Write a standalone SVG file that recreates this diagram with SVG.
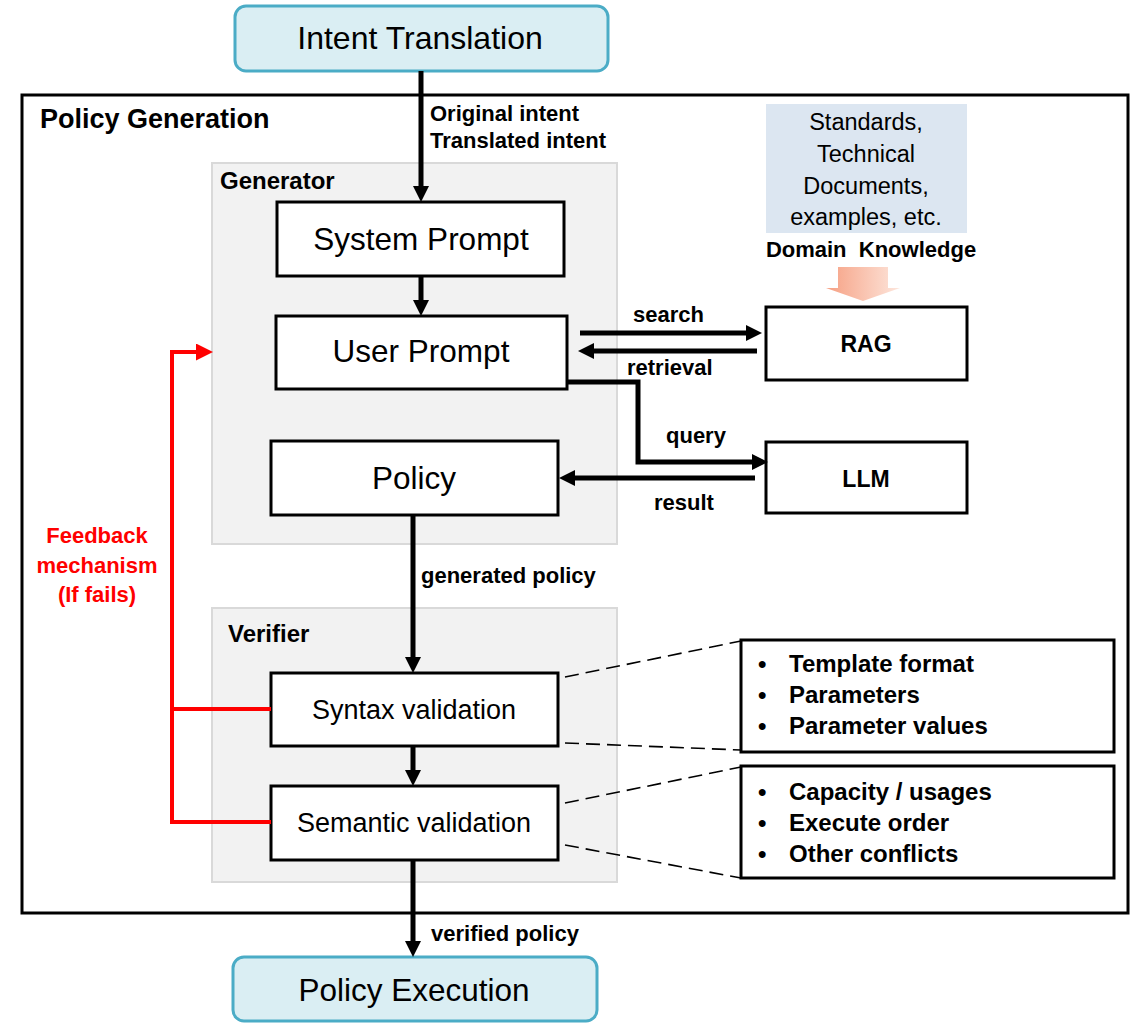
<svg xmlns="http://www.w3.org/2000/svg" width="1140" height="1026" viewBox="0 0 1140 1026">
  <defs>
    <style>
      text { font-family: "Liberation Sans", Arial, sans-serif; fill: #000; }
      .node { fill: #fff; stroke: #000; stroke-width: 3; }
      .io { fill: #DAEEF3; stroke: #4BACC6; stroke-width: 3; }
      .group { fill: #F2F2F2; stroke: #D9D9D9; stroke-width: 2; }
      .big { font-size: 31.5px; text-anchor: middle; }
      .mid { font-size: 27px; text-anchor: middle; }
      .lbl { font-size: 22px; font-weight: bold; }
      .item { font-size: 24px; font-weight: bold; }
      .title { font-size: 27px; font-weight: bold; }
      .sub { font-size: 24px; font-weight: bold; }
      .flow { fill: none; stroke: #000; stroke-width: 5; marker-end: url(#arrow); }
      .fb { fill: none; stroke: #FF0000; stroke-width: 4; }
      .dash { fill: none; stroke: #000; stroke-width: 1.6; stroke-dasharray: 14 7; }
      .red { fill: #FF0000; font-size: 22px; font-weight: bold; text-anchor: middle; }
    </style>
    <marker id="arrow" markerUnits="userSpaceOnUse" markerWidth="16" markerHeight="16" refX="4" refY="8" orient="auto">
      <path d="M0,0 L16,8 L0,16 z" fill="#000"/>
    </marker>
    <marker id="arrowRed" markerUnits="userSpaceOnUse" markerWidth="17" markerHeight="17" refX="4" refY="8.5" orient="auto">
      <path d="M0,0 L17,8.5 L0,17 z" fill="#FF0000"/>
    </marker>
    <linearGradient id="kgArrow" x1="0" y1="0" x2="1" y2="0">
      <stop offset="0" stop-color="#F6A083"/>
      <stop offset="1" stop-color="#FDE6DC"/>
    </linearGradient>
  </defs>

  <rect width="1140" height="1026" fill="#fff"/>

  <!-- outer frame -->
  <g id="policy-generation">
    <rect x="22" y="95" width="1106" height="818" fill="#fff" stroke="#000" stroke-width="3"/>
    <text class="title" x="40" y="128">Policy Generation</text>
  </g>

  <!-- sub-frames -->
  <g id="generator">
    <rect class="group" x="212" y="163" width="405" height="381"/>
    <text class="sub" x="220" y="189">Generator</text>
  </g>
  <g id="verifier">
    <rect class="group" x="212" y="608" width="405" height="274"/>
    <text class="sub" x="228" y="642">Verifier</text>
  </g>

  <!-- nodes -->
  <g id="intent-translation">
    <rect class="io" x="235" y="6" width="373" height="65" rx="11"/>
    <text x="420" y="49" font-size="32" text-anchor="middle">Intent Translation</text>
  </g>
  <g id="system-prompt">
    <rect class="node" x="277" y="202" width="287" height="74"/>
    <text class="big" x="421" y="250">System Prompt</text>
  </g>
  <g id="user-prompt">
    <rect class="node" x="276" y="316" width="291" height="73"/>
    <text class="big" x="421" y="362">User Prompt</text>
  </g>
  <g id="policy">
    <rect class="node" x="271" y="441" width="287" height="74"/>
    <text class="big" x="414" y="489">Policy</text>
  </g>
  <g id="syntax-validation">
    <rect class="node" x="271" y="673" width="287" height="73"/>
    <text class="mid" x="414" y="719">Syntax validation</text>
  </g>
  <g id="semantic-validation">
    <rect class="node" x="271" y="786" width="287" height="74"/>
    <text class="mid" x="414" y="832">Semantic validation</text>
  </g>
  <g id="policy-execution">
    <rect class="io" x="233" y="957" width="364" height="64" rx="11"/>
    <text class="big" x="414" y="1001">Policy Execution</text>
  </g>
  <g id="rag">
    <rect class="node" x="766" y="307" width="201" height="73"/>
    <text x="866" y="352" font-size="23" font-weight="bold" text-anchor="middle">RAG</text>
  </g>
  <g id="llm">
    <rect class="node" x="766" y="442" width="201" height="71"/>
    <text x="866" y="487" font-size="23" font-weight="bold" text-anchor="middle">LLM</text>
  </g>
  <g id="domain-knowledge">
    <rect x="766" y="104" width="201" height="129" fill="#DCE6F1"/>
    <text x="866" y="130" font-size="23.5" text-anchor="middle">Standards,</text>
    <text x="866" y="162" font-size="23.5" text-anchor="middle">Technical</text>
    <text x="866" y="194" font-size="23.5" text-anchor="middle">Documents,</text>
    <text x="866" y="225" font-size="23.5" text-anchor="middle">examples, etc.</text>
    <text x="871" y="257" font-size="22" font-weight="bold" text-anchor="middle" xml:space="preserve">Domain  Knowledge</text>
    <path d="M838,267 H888 V288 H900 L863,301 L826,288 H838 z" fill="url(#kgArrow)"/>
  </g>
  <g id="syntax-checks">
    <rect class="node" x="741" y="640" width="373" height="112"/>
    <text class="item" x="758" y="672">•</text>
    <text class="item" x="789" y="672">Template format</text>
    <text class="item" x="758" y="703">•</text>
    <text class="item" x="789" y="703">Parameters</text>
    <text class="item" x="758" y="734">•</text>
    <text class="item" x="789" y="734">Parameter values</text>
  </g>
  <g id="semantic-checks">
    <rect class="node" x="741" y="766" width="373" height="112"/>
    <text class="item" x="758" y="800">•</text>
    <text class="item" x="789" y="800">Capacity / usages</text>
    <text class="item" x="758" y="831">•</text>
    <text class="item" x="789" y="831">Execute order</text>
    <text class="item" x="758" y="862">•</text>
    <text class="item" x="789" y="862">Other conflicts</text>
  </g>
  <g id="feedback-label">
    <text class="red" x="97" y="543">Feedback</text>
    <text class="red" x="97" y="573">mechanism</text>
    <text class="red" x="97" y="602">(If fails)</text>
  </g>

  <!-- connectors -->
  <g id="connectors">
    <path class="flow" d="M421,71 V190"/>
    <path class="flow" d="M421,276 V304"/>
    <path class="flow" d="M580,333 H750"/>
    <path class="flow" d="M757,351 H590"/>
    <path class="flow" d="M567,382 H638 V462 H756"/>
    <path class="flow" d="M755,478 H571"/>
    <path class="flow" d="M413,515 V661"/>
    <path class="flow" d="M413,746 V774"/>
    <path class="flow" d="M413,860 V945"/>

    <path class="fb" d="M271,822 H172 V352 H200" marker-end="url(#arrowRed)"/>
    <path class="fb" d="M271,709 H172"/>

    <path class="dash" d="M565,677 L741,641"/>
    <path class="dash" d="M565,743 L741,750"/>
    <path class="dash" d="M565,803 L741,767"/>
    <path class="dash" d="M565,845 L741,878"/>

    <text class="lbl" x="430" y="121">Original intent</text>
    <text class="lbl" x="430" y="148">Translated intent</text>
    <text class="lbl" x="633" y="322">search</text>
    <text class="lbl" x="627" y="375">retrieval</text>
    <text class="lbl" x="666" y="443">query</text>
    <text class="lbl" x="654" y="510">result</text>
    <text class="lbl" x="421" y="583">generated policy</text>
    <text class="lbl" x="431" y="941">verified policy</text>
  </g>
</svg>
